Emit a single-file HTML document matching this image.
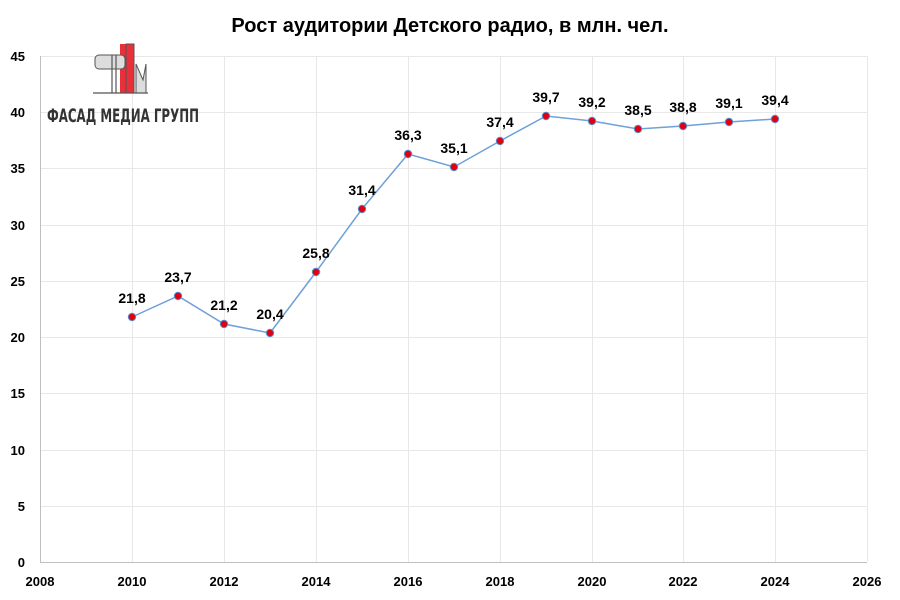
<!DOCTYPE html>
<html><head><meta charset="utf-8"><style>
body{margin:0;background:#fff;}
svg{display:block;font-family:"Liberation Sans",sans-serif;}
</style></head><body>
<svg width="900" height="600" xmlns="http://www.w3.org/2000/svg">
<rect width="900" height="600" fill="#fff"/>
<text x="450" y="32" text-anchor="middle" font-size="20" font-weight="bold" fill="#000">Рост аудитории Детского радио, в млн. чел.</text>
<g stroke="#e8e8e8" stroke-width="1">
<line x1="40" y1="56.5" x2="867" y2="56.5"/><line x1="40" y1="112.5" x2="867" y2="112.5"/>
<line x1="40" y1="168.5" x2="867" y2="168.5"/><line x1="40" y1="225.5" x2="867" y2="225.5"/>
<line x1="40" y1="281.5" x2="867" y2="281.5"/><line x1="40" y1="337.5" x2="867" y2="337.5"/>
<line x1="40" y1="393.5" x2="867" y2="393.5"/><line x1="40" y1="450.5" x2="867" y2="450.5"/>
<line x1="40" y1="506.5" x2="867" y2="506.5"/>
<line x1="132.5" y1="56" x2="132.5" y2="562"/><line x1="224.5" y1="56" x2="224.5" y2="562"/>
<line x1="316.5" y1="56" x2="316.5" y2="562"/><line x1="408.5" y1="56" x2="408.5" y2="562"/>
<line x1="500.5" y1="56" x2="500.5" y2="562"/><line x1="592.5" y1="56" x2="592.5" y2="562"/>
<line x1="683.5" y1="56" x2="683.5" y2="562"/><line x1="775.5" y1="56" x2="775.5" y2="562"/>
<line x1="867.5" y1="56" x2="867.5" y2="562"/>
</g>
<line x1="40.5" y1="56" x2="40.5" y2="562" stroke="#bfbfbf"/>
<line x1="40" y1="562.5" x2="867" y2="562.5" stroke="#bfbfbf"/>
<g font-size="13" font-weight="bold" fill="#000" text-anchor="end">
<text x="25" y="61">45</text><text x="25" y="117">40</text><text x="25" y="173">35</text>
<text x="25" y="230">30</text><text x="25" y="286">25</text><text x="25" y="342">20</text>
<text x="25" y="398">15</text><text x="25" y="455">10</text><text x="25" y="511">5</text><text x="25" y="567">0</text>
</g>
<g font-size="13" font-weight="bold" fill="#000" text-anchor="middle">
<text x="40" y="586">2008</text><text x="132" y="586">2010</text><text x="224" y="586">2012</text>
<text x="316" y="586">2014</text><text x="408" y="586">2016</text><text x="500" y="586">2018</text>
<text x="592" y="586">2020</text><text x="683" y="586">2022</text><text x="775" y="586">2024</text><text x="867" y="586">2026</text>
</g>
<polyline fill="none" stroke="#6fa0d8" stroke-width="1.5" points="132,317 178,296 224,324 270,333 316,272 362,209 408,154 454,167 500,141 546,116 592,121 638,129 683,126 729,122 775,119"/>
<g fill="#e00010" stroke="#5b8fd0" stroke-width="1">
<circle cx="132" cy="317" r="3.7"/><circle cx="178" cy="296" r="3.7"/><circle cx="224" cy="324" r="3.7"/>
<circle cx="270" cy="333" r="3.7"/><circle cx="316" cy="272" r="3.7"/><circle cx="362" cy="209" r="3.7"/>
<circle cx="408" cy="154" r="3.7"/><circle cx="454" cy="167" r="3.7"/><circle cx="500" cy="141" r="3.7"/>
<circle cx="546" cy="116" r="3.7"/><circle cx="592" cy="121" r="3.7"/><circle cx="638" cy="129" r="3.7"/>
<circle cx="683" cy="126" r="3.7"/><circle cx="729" cy="122" r="3.7"/><circle cx="775" cy="119" r="3.7"/>
</g>
<g font-size="14" font-weight="bold" fill="#000" text-anchor="middle">
<text x="132" y="303">21,8</text><text x="178" y="282">23,7</text><text x="224" y="310">21,2</text>
<text x="270" y="319">20,4</text><text x="316" y="258">25,8</text><text x="362" y="195">31,4</text>
<text x="408" y="140">36,3</text><text x="454" y="153">35,1</text><text x="500" y="127">37,4</text>
<text x="546" y="102">39,7</text><text x="592" y="107">39,2</text><text x="638" y="115">38,5</text>
<text x="683" y="112">38,8</text><text x="729" y="108">39,1</text><text x="775" y="105">39,4</text>
</g>
<g>
<rect x="120" y="44" width="14" height="49" fill="#e8303a"/>
<rect x="126" y="44" width="8" height="49" fill="none" stroke="#555" stroke-width="1"/>
<rect x="95" y="55" width="30" height="14" rx="4" fill="#ddd" stroke="#555" stroke-width="1"/>
<line x1="112" y1="55" x2="112" y2="93" stroke="#555" stroke-width="1.2"/>
<line x1="116" y1="55" x2="116" y2="93" stroke="#555" stroke-width="1.2"/>
<polygon points="136,93 136,64 143,80 146,64 146,93" fill="#ddd" stroke="#555" stroke-width="1"/>
<line x1="93" y1="93" x2="148" y2="93" stroke="#555" stroke-width="1.2"/>
<text x="123" y="122" text-anchor="middle" font-size="19" font-weight="bold" fill="#333" textLength="152" lengthAdjust="spacingAndGlyphs" font-family="'DejaVu Sans Condensed','Liberation Sans Narrow',sans-serif">ФАСАД МЕДИА ГРУПП</text>
</g>
</svg>
</body></html>
